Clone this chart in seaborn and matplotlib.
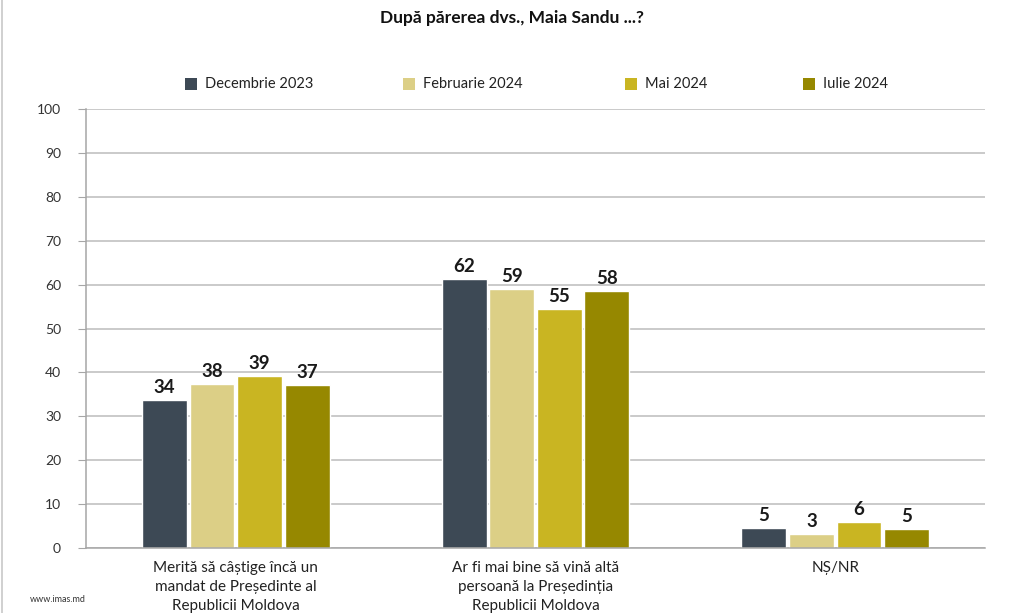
import matplotlib
matplotlib.use("Agg")
import matplotlib.pyplot as plt
import seaborn as sns
import pandas as pd
from matplotlib.patches import Rectangle

categories = ["Merită să câștige încă un\nmandat de Președinte al\nRepublicii Moldova",
              "Ar fi mai bine să vină altă\npersoană la Președinția\nRepublicii Moldova",
              "NȘ/NR"]
series = ["Decembrie 2023", "Februarie 2024", "Mai 2024", "Iulie 2024"]
values_dec23 = [33.7, 61.3, 4.6]
values_feb24 = [37.4, 59.0, 3.2]
values_mai24 = [39.2, 54.4, 5.9]
values_iul24 = [37.1, 58.5, 4.4]
labels_dec23 = ["34", "62", "5"]
labels_feb24 = ["38", "59", "3"]
labels_mai24 = ["39", "55", "6"]
labels_iul24 = ["37", "58", "5"]
yticks = [0, 10, 20, 30, 40, 50, 60, 70, 80, 90, 100]
title = "După părerea dvs., Maia Sandu ...?"
source = "www.imas.md"

colors = ["#3d4955", "#dccf86", "#c9b522", "#968800"]

all_vals = [values_dec23, values_feb24, values_mai24, values_iul24]
all_labels = [labels_dec23, labels_feb24, labels_mai24, labels_iul24]
rows = []
for s, vals in zip(series, all_vals):
    for c, v in zip(categories, vals):
        rows.append({"cat": c, "series": s, "value": v})
df = pd.DataFrame(rows)

sns.set_style("white")
plt.rcParams['font.family'] = ['Lato', 'DejaVu Sans']

W, H = 1024, 613
fig = plt.figure(figsize=(W/100, H/100), dpi=100)
ax = fig.add_axes([86/W, 1-548/H, 899/W, 439/H])

sns.barplot(data=df, x="cat", y="value", hue="series", palette=colors,
            width=0.635, gap=0.06, ax=ax, legend=False, saturation=1,
            order=categories, hue_order=series)

for cont, labs in zip(ax.containers, all_labels):
    ax.bar_label(cont, labels=labs, padding=3, fontsize=13.5, fontweight="bold",
                 color="#1a1a1a")

ax.set_ylim(0, 100)
ax.set_xlim(-0.5, 2.5)
ax.set_yticks(yticks)
ax.set_yticklabels([str(t) for t in yticks], fontsize=10, color="#333333")
ax.yaxis.grid(True, color="#bcbcbc", linewidth=1.1)
ax.set_axisbelow(True)
for sp in ["top", "right"]:
    ax.spines[sp].set_visible(False)
ax.spines["left"].set_color("#a6a6a6")
ax.spines["bottom"].set_color("#a6a6a6")
ax.spines["left"].set_linewidth(1.1)
ax.spines["bottom"].set_linewidth(1.1)
ax.tick_params(axis="y", which="both", left=True, length=6, color="#a6a6a6",
               pad=12)
ax.tick_params(axis="x", bottom=False, pad=6)
ax.set_xticks(range(len(categories)))
ax.set_xticklabels(categories, fontsize=11, color="#222222", linespacing=1.45)
ax.set_xlabel("")
ax.set_ylabel("")

# legend (manual placement to match fixed column positions)
leg_x = [185, 403, 625, 803]
for x0, c, s in zip(leg_x, colors, series):
    fig.add_artist(Rectangle((x0/W, 1-90/H), 12/W, 12/H, facecolor=c,
                             edgecolor="none", transform=fig.transFigure))
    fig.text((x0+20)/W, 1-84/H, s, ha="left", va="center", fontsize=10.5,
             color="#222222")

fig.text(512/W, 1-18/H, title, ha="center", va="center", fontsize=12.5,
         fontweight="bold", color="#111111")
fig.text(30/W, 1-600/H, source, ha="left", va="center", fontsize=6.5,
         color="#333333")

# left frame line
fig.add_artist(plt.Line2D([2/W, 2/W], [0, 1], color="#c8c8c8", linewidth=1.2))

fig.savefig("out.png", dpi=100)
